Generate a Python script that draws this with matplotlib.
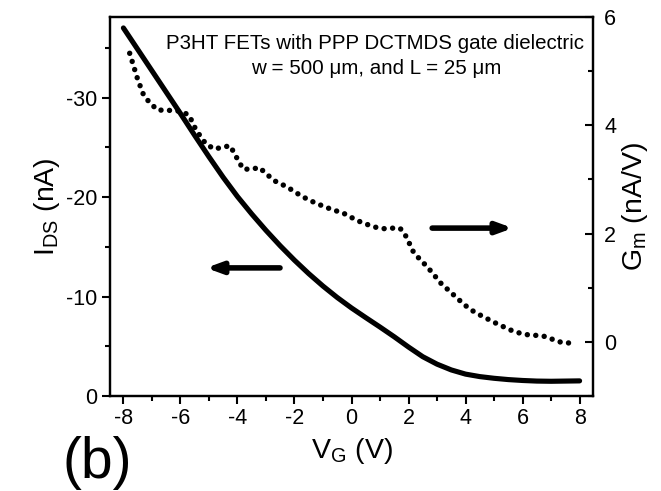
import matplotlib
matplotlib.use("Agg")
import matplotlib.pyplot as plt
from matplotlib.ticker import MultipleLocator

plt.rcParams['font.family'] = ['Liberation Sans', 'DejaVu Sans']

# I_DS transfer curve (left axis)
vg_ids = [-8, -7.5, -7, -6.5, -6, -5.5, -5, -4.5, -4, -3.5, -3, -2.5, -2, -1.5, -1,
          -0.5, 0, 0.5, 1, 1.5, 2, 2.5, 3, 3.5, 4, 4.5, 5, 5.5, 6, 6.5, 7, 7.5, 8]
ids = [-37.0, -34.85, -32.7, -30.55, -28.4, -26.2, -24.05, -21.98, -20.05, -18.3,
       -16.65, -15.1, -13.65, -12.3, -11.05, -9.9, -8.85, -7.88, -6.93, -5.95, -4.92,
       -3.95, -3.2, -2.62, -2.2, -1.95, -1.78, -1.65, -1.56, -1.5, -1.48, -1.5, -1.52]

# Transconductance G_m (right axis)
vg_gm = [-7.78, -7.5, -7.3, -7.1, -6.8, -6.5, -6.0, -5.7, -5.45, -5.1, -4.8, -4.5,
         -4.25, -4.1, -3.8, -3.5, -3.23, -2.94, -2.65, -2.37, -2.07, -1.78, -1.49,
         -1.2, -0.91, -0.62, -0.33, -0.05, 0.25, 0.54, 0.82, 1.11, 1.40, 1.70, 1.87,
         2.02, 2.15, 2.37, 2.65, 2.89, 3.12, 3.39, 3.68, 3.97, 4.26, 4.53, 4.82, 5.12,
         5.41, 5.70, 5.99, 6.29, 6.58, 6.87, 7.16, 7.45, 7.75]
gm = [5.33, 4.85, 4.57, 4.43, 4.28, 4.28, 4.26, 4.19, 3.91, 3.65, 3.56, 3.60, 3.62,
      3.47, 3.19, 3.19, 3.22, 3.08, 2.96, 2.89, 2.80, 2.70, 2.62, 2.55, 2.49, 2.43,
      2.39, 2.31, 2.23, 2.17, 2.12, 2.09, 2.10, 2.10, 1.99, 1.83, 1.68, 1.54, 1.39,
      1.24, 1.09, 0.96, 0.82, 0.68, 0.57, 0.49, 0.41, 0.33, 0.26, 0.19, 0.15, 0.12,
      0.12, 0.09, 0.02, -0.02, -0.02]

x_ticks = [-8, -6, -4, -2, 0, 2, 4, 6, 8]
left_ticks = [0, -10, -20, -30]
right_ticks = [0, 2, 4, 6]

W, H = 661, 491
fig = plt.figure(figsize=(W / 100, H / 100), dpi=100)
L, R, T, B = 110, 593, 17, 396
ax = fig.add_axes([L / W, 1 - B / H, (R - L) / W, (B - T) / H])
ax2 = ax.twinx()

ax.plot(vg_ids, ids, color='black', lw=3.7, solid_capstyle='round', solid_joinstyle='round')
ax2.plot(vg_gm, gm, color='black', lw=3.9, linestyle=(0, (0.01, 1.56)),
         dash_capstyle='round')

ax.set_xlim(-8.47, 8.47)
ax.set_ylim(0, -38.1)
ax2.set_ylim(-1, 6)

ax.set_xticks(x_ticks)
ax.set_xticklabels([str(v) for v in x_ticks])
ax.xaxis.set_minor_locator(MultipleLocator(1))
ax.set_yticks(left_ticks)
ax.set_yticklabels([str(v) for v in left_ticks])
ax.yaxis.set_minor_locator(MultipleLocator(5))
ax2.set_yticks(right_ticks)
ax2.set_yticklabels([str(v) for v in right_ticks])
ax2.yaxis.set_minor_locator(MultipleLocator(1))

for a in (ax, ax2):
    for s in a.spines.values():
        s.set_linewidth(1.6)

ax.tick_params(axis='both', which='major', direction='out', length=6, width=1.5,
               labelsize=15.5, pad=3)
ax.tick_params(axis='both', which='minor', direction='out', length=3.5, width=1.5)
ax.tick_params(axis='y', right=False)
ax2.tick_params(axis='y', which='major', direction='in', length=6, width=1.5,
                labelsize=15.5, pad=8)
ax2.tick_params(axis='y', which='minor', direction='in', length=3.5, width=1.5)

ax.set_xlabel(r'V$_{\mathregular{G}}$ (V)', fontsize=20.5, labelpad=5)
ax.set_ylabel(r'I$_{\mathregular{DS}}$ (nA)', fontsize=20.5, labelpad=3)
ax2.set_ylabel(r'G$_{\mathregular{m}}$ (nA/V)', fontsize=20.5, labelpad=3)

ax.text(0.549, 0.931, 'P3HT FETs with PPP DCTMDS gate dielectric',
        transform=ax.transAxes, ha='center', va='center', fontsize=14.8)
ax.text(0.551, 0.865, 'w = 500 \u03bcm, and L = 25 \u03bcm',
        transform=ax.transAxes, ha='center', va='center', fontsize=14.8)

arrow = dict(arrowstyle='-|>,head_length=0.9,head_width=0.33', lw=4, color='black',
             shrinkA=0, shrinkB=0, capstyle='round')
ax.annotate('', xy=(0.199, 0.338), xytext=(0.352, 0.338), xycoords='axes fraction',
            arrowprops=arrow)
ax.annotate('', xy=(0.834, 0.443), xytext=(0.667, 0.443), xycoords='axes fraction',
            arrowprops=arrow)

fig.text(63 / W, 1 - 463 / H, '(b)', fontsize=41, ha='left', va='center')

fig.savefig('out.png', dpi=100)
